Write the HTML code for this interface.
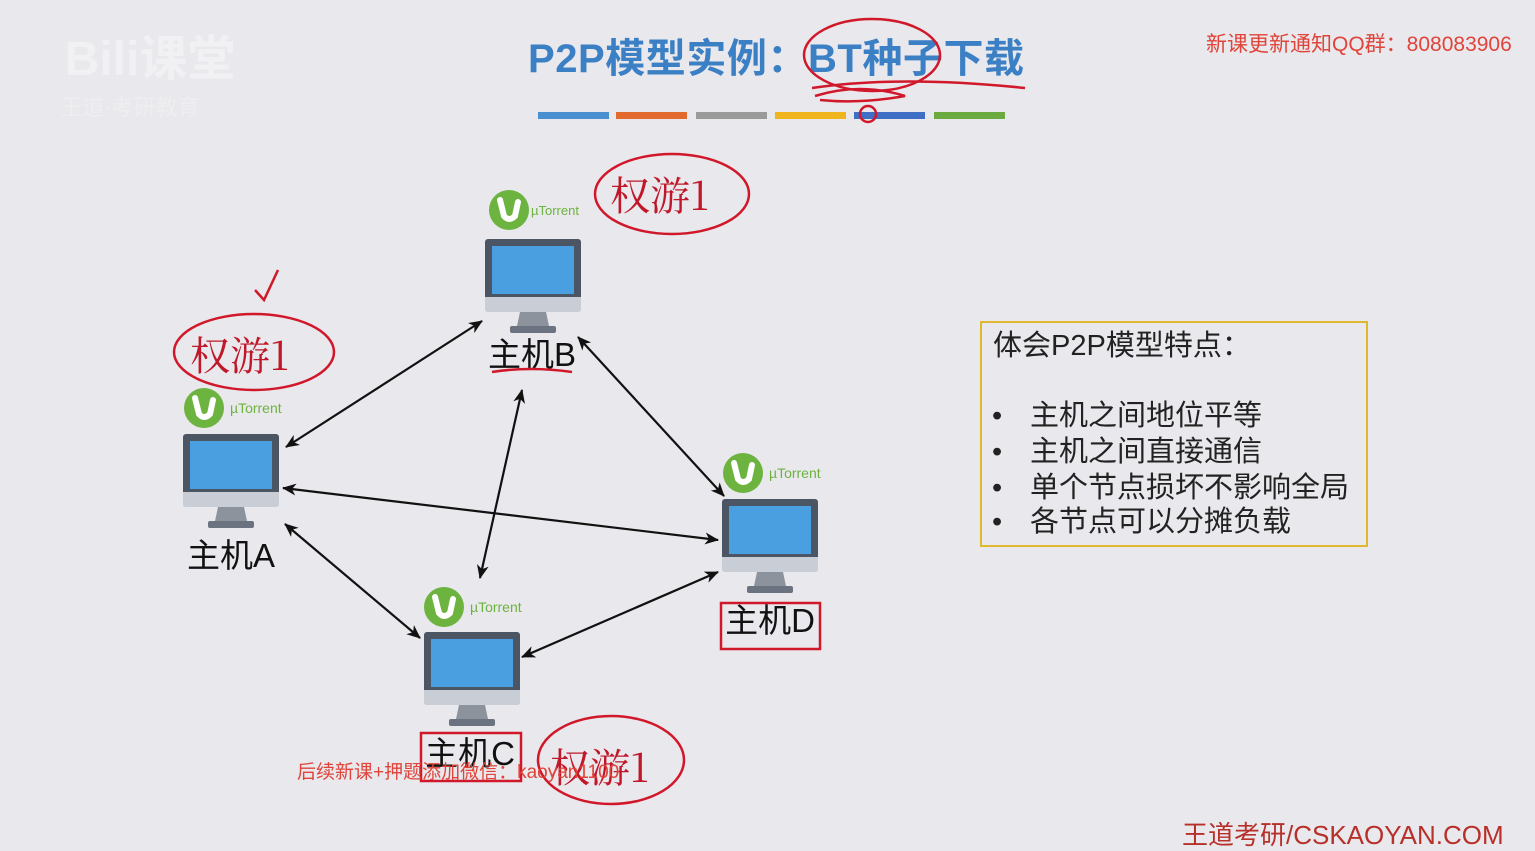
<!DOCTYPE html>
<html><head><meta charset="utf-8"><style>
body{margin:0;width:1535px;height:851px;background:#e9e8ec;overflow:hidden;font-family:"Liberation Sans","Noto Sans CJK SC",sans-serif;}
svg{position:absolute;left:0;top:0}
</style></head><body>
<svg width="1535" height="851" viewBox="0 0 1535 851" xmlns="http://www.w3.org/2000/svg">
<defs>
<marker id="ah" markerWidth="14" markerHeight="12" refX="13" refY="6" orient="auto-start-reverse" markerUnits="userSpaceOnUse"><path d="M0,0 L14,6 L0,12 L4,6 z" fill="#111"/></marker>
<g id="pc">
<rect x="0" y="0" width="96" height="62" rx="3" fill="#4b5563"/>
<rect x="7" y="7" width="82" height="48" fill="#4a9fe0"/>
<path d="M0,58 H96 V70 Q96,73 93,73 H3 Q0,73 0,70 Z" fill="#c9ced6"/>
<path d="M35,73 H61 L64,87 H32 Z" fill="#8c939d"/>
<rect x="25" y="87" width="46" height="7" rx="2" fill="#6b7380"/>
</g>
<g id="ut">
<circle cx="0" cy="0" r="20" fill="#6cb33f"/>
<path d="M-9,-10 L-5,6 Q0,12 6,6 L9,-8" stroke="#fff" stroke-width="6" fill="none" stroke-linecap="round"/>
</g>
</defs>
<text x="150" y="75" font-size="48" font-weight="bold" fill="#f1f1f3" text-anchor="middle">Bili课堂</text>
<text x="130" y="115" font-size="22" fill="#eeeef0" text-anchor="middle">王道·考研教育</text>

<text x="776" y="72" font-size="40" font-weight="bold" fill="#3b7fc4" text-anchor="middle" textLength="496">P2P模型实例：BT种子下载</text>
<rect x="538" y="112" width="71" height="7" fill="#4a8fd0"/>
<rect x="616" y="112" width="71" height="7" fill="#e26a2c"/>
<rect x="696" y="112" width="71" height="7" fill="#9a9a9a"/>
<rect x="775" y="112" width="71" height="7" fill="#f0b51c"/>
<rect x="854" y="112" width="71" height="7" fill="#3e6fc4"/>
<rect x="934" y="112" width="71" height="7" fill="#6aaa3f"/>
<text x="1206" y="51" font-size="21" fill="#e0443a">新课更新通知QQ群：808083906</text>

<g stroke="#d0182a" stroke-width="2.5" fill="none">
<ellipse cx="872" cy="55" rx="68" ry="36"/>
<path d="M812,88 Q900,75 1025,88"/>
<path d="M815,96 Q860,82 905,96 Q860,104 820,100"/>
<circle cx="868" cy="114" r="8"/>
</g>

<g stroke="#111" stroke-width="2.2" marker-start="url(#ah)" marker-end="url(#ah)">
<line x1="286" y1="447" x2="482" y2="321"/>
<line x1="283" y1="488" x2="718" y2="540"/>
<line x1="285" y1="524" x2="420" y2="638"/>
<line x1="522" y1="390" x2="480" y2="578"/>
<line x1="578" y1="337" x2="724" y2="496"/>
<line x1="522" y1="657" x2="718" y2="572"/>
</g>

<use href="#pc" x="183" y="434"/>
<use href="#pc" x="485" y="239"/>
<use href="#pc" x="424" y="632"/>
<use href="#pc" x="722" y="499"/>

<use href="#ut" x="204" y="408"/>
<text x="230" y="413" font-size="14" fill="#6cb33f">µTorrent</text>
<use href="#ut" x="509" y="210"/>
<text x="531" y="215" font-size="13" fill="#6cb33f">µTorrent</text>
<use href="#ut" x="444" y="607"/>
<text x="470" y="612" font-size="14" fill="#6cb33f">µTorrent</text>
<use href="#ut" x="743" y="473"/>
<text x="769" y="478" font-size="14" fill="#6cb33f">µTorrent</text>

<g font-size="33" fill="#111" text-anchor="middle">
<text x="231" y="567">主机A</text>
<text x="532" y="366">主机B</text>
<text x="470" y="765">主机C</text>
<text x="770" y="632">主机D</text>
</g>

<g stroke="#d0182a" stroke-width="2.5" fill="none">
<ellipse cx="254" cy="352" rx="80" ry="38"/>
<ellipse cx="672" cy="194" rx="77" ry="40"/>
<ellipse cx="611" cy="760" rx="73" ry="44"/>
<path d="M255,290 L264,300 L278,270"/>
<path d="M492,372 Q530,366 572,372"/>
<rect x="721" y="603" width="99" height="46"/>
<rect x="421" y="733" width="100" height="48"/>
</g>
<g font-size="40" fill="#c0182a" font-family="'Noto Serif CJK SC',serif">
<text x="190" y="370">权游1</text>
<text x="610" y="210">权游1</text>
<text x="550" y="782">权游1</text>
</g>

<text x="297" y="778" font-size="19" fill="#e0443a">后续新课+押题添加微信：kaoyan1100</text>

<rect x="981" y="322" width="386" height="224" fill="none" stroke="#e0b830" stroke-width="2"/>
<g font-size="29" fill="#222">
<text x="993" y="355">体会P2P模型特点：</text>
<text x="992" y="425">•</text><text x="1030" y="425">主机之间地位平等</text>
<text x="992" y="461">•</text><text x="1030" y="461">主机之间直接通信</text>
<text x="992" y="497">•</text><text x="1030" y="497">单个节点损坏不影响全局</text>
<text x="992" y="531">•</text><text x="1030" y="531">各节点可以分摊负载</text>
</g>
<text x="1182" y="844" font-size="26" fill="#b8302a">王道考研/CSKAOYAN.COM</text>
</svg>
</body></html>
